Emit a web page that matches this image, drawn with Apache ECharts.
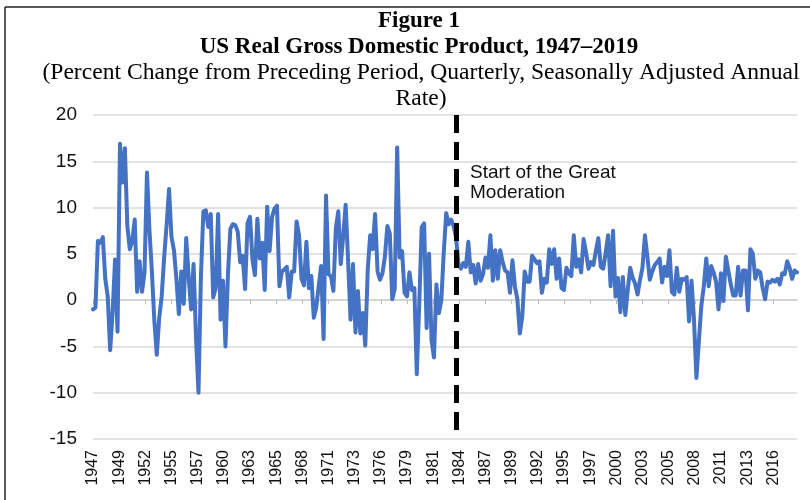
<!DOCTYPE html>
<html>
<head>
<meta charset="utf-8">
<script src="https://cdn.jsdelivr.net/npm/echarts@6/dist/echarts.min.js"></script>
<style>html,body{margin:0;padding:0;background:#fff}#c{width:810px;height:500px}</style>
</head>
<body>
<div id="c"></div>
<script>
// Quarterly real GDP growth, % change SAAR, starting 1947 Q2
const gdp1940s = [-1.0, -0.8, 6.4, 6.2, 6.8, 2.3, 0.4, -5.4, -1.3, 4.4, -3.4];
const gdp1950s = [16.9, 12.7, 16.4, 8.0, 5.5, 6.4, 8.7, 0.9, 4.2, 0.9, 3.0, 13.8, 7.6, 3.1, -2.2, -5.9,
  -1.9, 0.4, 4.6, 8.1, 12.0, 6.8, 5.4, 2.3, -1.5, 3.1, -0.4, 6.7, 2.5, -1.0, 3.9, -4.1,
  -10.0, 2.6, 9.6, 9.7, 7.9, 9.3, 0.3, 1.3];
const gdp1960s = [9.3, -2.1, 2.1, -5.0, 2.7, 7.7, 8.2, 8.1, 7.4, 4.1, 4.8, 1.2, 8.3, 9.0, 4.4, 2.7,
  8.8, 4.5, 6.2, 1.1, 10.1, 5.3, 9.0, 9.9, 10.2, 1.5, 3.1, 3.3, 3.6, 0.3, 3.1, 3.1,
  8.5, 7.0, 2.3, 1.6, 6.3, 1.3, 2.6, -1.9];
const gdp1970s = [-0.8, 1.5, 3.7, -4.2, 11.3, 2.8, 2.6, 1.0, 7.8, 9.6, 3.9, 6.9, 10.3, 4.2, -2.1, 3.9,
  -3.5, 1.0, -3.6, -1.4, -4.9, 3.3, 7.0, 5.5, 9.3, 3.1, 2.2, 2.9, 4.7, 8.0, 7.2, 0.1,
  1.2, 16.5, 4.6, 5.3, 0.8, 0.4, 3.0, 1.1];
const gdp1980s = [1.3, -8.0, -0.4, 7.9, 8.3, -3.0, 5.0, -4.3, -6.2, 1.7, -1.4, 0.0, 5.2, 9.4, 8.2, 8.7,
  8.0, 6.8, 3.9, 3.4, 4.0, 3.6, 6.3, 3.0, 3.8, 1.8, 3.9, 2.1, 2.8, 4.6, 3.5, 7.0,
  2.1, 5.4, 2.3, 5.4, 4.1, 3.2, 3.0, 0.8];
const gdp1990s = [4.3, 1.5, 0.1, -3.6, -1.8, 3.1, 2.0, 2.0, 4.8, 4.4, 4.0, 4.2, 0.8, 2.3, 1.9, 5.5,
  3.9, 5.5, 2.3, 4.5, 1.3, 1.1, 3.5, 2.9, 2.6, 7.0, 3.6, 4.4, 3.0, 6.6, 5.1, 3.4,
  4.1, 3.8, 5.3, 6.7, 3.6, 3.4, 5.1, 7.0];
const gdp2000s = [1.5, 7.5, 0.4, 2.4, -1.3, 2.5, -1.6, 1.1, 3.5, 2.4, 1.8, 0.6, 2.2, 3.5, 7.0, 4.7,
  2.2, 3.1, 3.8, 4.1, 4.5, 1.9, 3.6, 2.6, 5.4, 0.9, 0.6, 3.5, 0.9, 2.3, 2.2, 2.5,
  -2.3, 2.1, -2.1, -8.4, -4.4, -0.6, 1.5, 4.5];
const gdp2010s = [1.5, 3.7, 3.0, 2.0, -1.0, 2.9, -0.1, 4.7, 3.2, 1.7, 0.5, 0.5, 3.6, 0.5, 3.2, 3.2,
  -1.1, 5.5, 5.0, 2.3, 3.2, 3.0, 1.3, 0.1, 2.0, 1.9, 2.2, 2.0, 2.3, 1.7, 2.9, 2.8,
  4.2, 3.5, 2.3, 3.2, 3.0];

const tickLabels = ['1947','1949','1952','1955','1957','1960','1963','1965','1968','1971','1973','1976','1979',
  '1981','1984','1987','1989','1992','1995','1997','2000','2003','2005','2008','2011','2013','2016'];
const yTicks = [-15, -10, -5, 0, 5, 10, 15, 20];

const titleLines = ['Figure 1', 'US Real Gross Domestic Product, 1947\u20132019',
  '(Percent Change from Preceding Period, Quarterly, Seasonally Adjusted Annual', 'Rate)'];
const annotationLines = ['Start of the Great', 'Moderation'];

const firstPeriod = 1947.25;     // 1947 Q2
const moderationStart = 1984.25; // 1984 Q2
const monthsPerLabel = 32;

const values = [].concat(gdp1940s, gdp1950s, gdp1960s, gdp1970s, gdp1980s, gdp1990s, gdp2000s, gdp2010s);
const data = values.map((v, i) => [i * 3, v]);
const lastX = (values.length - 1) * 3;
const tickVals = tickLabels.map((_, k) => k * monthsPerLabel);
const modX = Math.round((moderationStart - firstPeriod) * 12);

const chart = echarts.init(document.getElementById('c'), null, {renderer: 'canvas'});
chart.setOption({
  animation: false,
  backgroundColor: '#fff',
  grid: {left: 93, right: 13, top: 115, bottom: 61, containLabel: false},
  xAxis: [{
    type: 'value', min: 0, max: lastX,
    axisLine: {show: true, onZero: true, lineStyle: {color: '#d0d0d0', width: 1.5}},
    axisTick: {show: true, length: 4, customValues: tickVals, lineStyle: {color: '#bdbdbd', width: 1}},
    axisLabel: {show: false},
    splitLine: {show: false}
  }, {
    type: 'value', min: 0, max: lastX, position: 'bottom',
    axisLine: {show: false, onZero: false},
    axisTick: {show: false},
    splitLine: {show: false},
    axisLabel: {
      rotate: 90, fontSize: 16, fontFamily: 'Liberation Sans, Arial, sans-serif', color: '#111', margin: 11,
      customValues: tickVals,
      formatter: v => tickLabels[Math.round(v / monthsPerLabel)]
    }
  }],
  yAxis: {
    type: 'value', min: yTicks[0], max: yTicks[yTicks.length - 1], interval: 5,
    axisLine: {show: false}, axisTick: {show: false},
    splitLine: {show: true, lineStyle: {color: '#d9d9d9', width: 1.5}},
    axisLabel: {fontSize: 19, fontFamily: 'Liberation Sans, Arial, sans-serif', color: '#111', margin: 16}
  },
  series: [{
    type: 'line', xAxisIndex: 0, data: data, showSymbol: false, symbol: 'none',
    lineStyle: {color: '#4472C4', width: 4, join: 'round', cap: 'round'},
    itemStyle: {color: '#4472C4'},
    markLine: {
      silent: true, symbol: 'none', label: {show: false},
      lineStyle: {color: '#000', width: 5, type: [18, 9]},
      data: [[{coord: [modX, yTicks[yTicks.length - 1]]}, {coord: [modX, yTicks[0]]}]]
    }
  }],
  graphic: [
    {type: 'line', shape: {x1: 5, y1: 7, x2: 810, y2: 7}, style: {stroke: '#222', lineWidth: 1.5}},
    {type: 'line', shape: {x1: 5, y1: 7, x2: 5, y2: 500}, style: {stroke: '#222', lineWidth: 1.5}},
    {type: 'text', x: 419, y: 21, style: {text: titleLines[0], font: 'bold 23px "Liberation Serif", "Times New Roman", serif', fill: '#000', textAlign: 'center', textVerticalAlign: 'middle'}},
    {type: 'text', x: 419, y: 47, style: {text: titleLines[1], font: 'bold 23px "Liberation Serif", "Times New Roman", serif', fill: '#000', textAlign: 'center', textVerticalAlign: 'middle'}},
    {type: 'text', x: 421, y: 73, style: {text: titleLines[2], font: '23.6px "Liberation Serif", "Times New Roman", serif', fill: '#000', textAlign: 'center', textVerticalAlign: 'middle'}},
    {type: 'text', x: 421, y: 99, style: {text: titleLines[3], font: '23.6px "Liberation Serif", "Times New Roman", serif', fill: '#000', textAlign: 'center', textVerticalAlign: 'middle'}},
    {type: 'text', x: 470, y: 173, style: {text: annotationLines[0], font: '19px "Liberation Sans", Arial, sans-serif', fill: '#111', textAlign: 'left', textVerticalAlign: 'middle'}},
    {type: 'text', x: 470, y: 193, style: {text: annotationLines[1], font: '19px "Liberation Sans", Arial, sans-serif', fill: '#111', textAlign: 'left', textVerticalAlign: 'middle'}}
  ]
});
</script>
</body>
</html>
